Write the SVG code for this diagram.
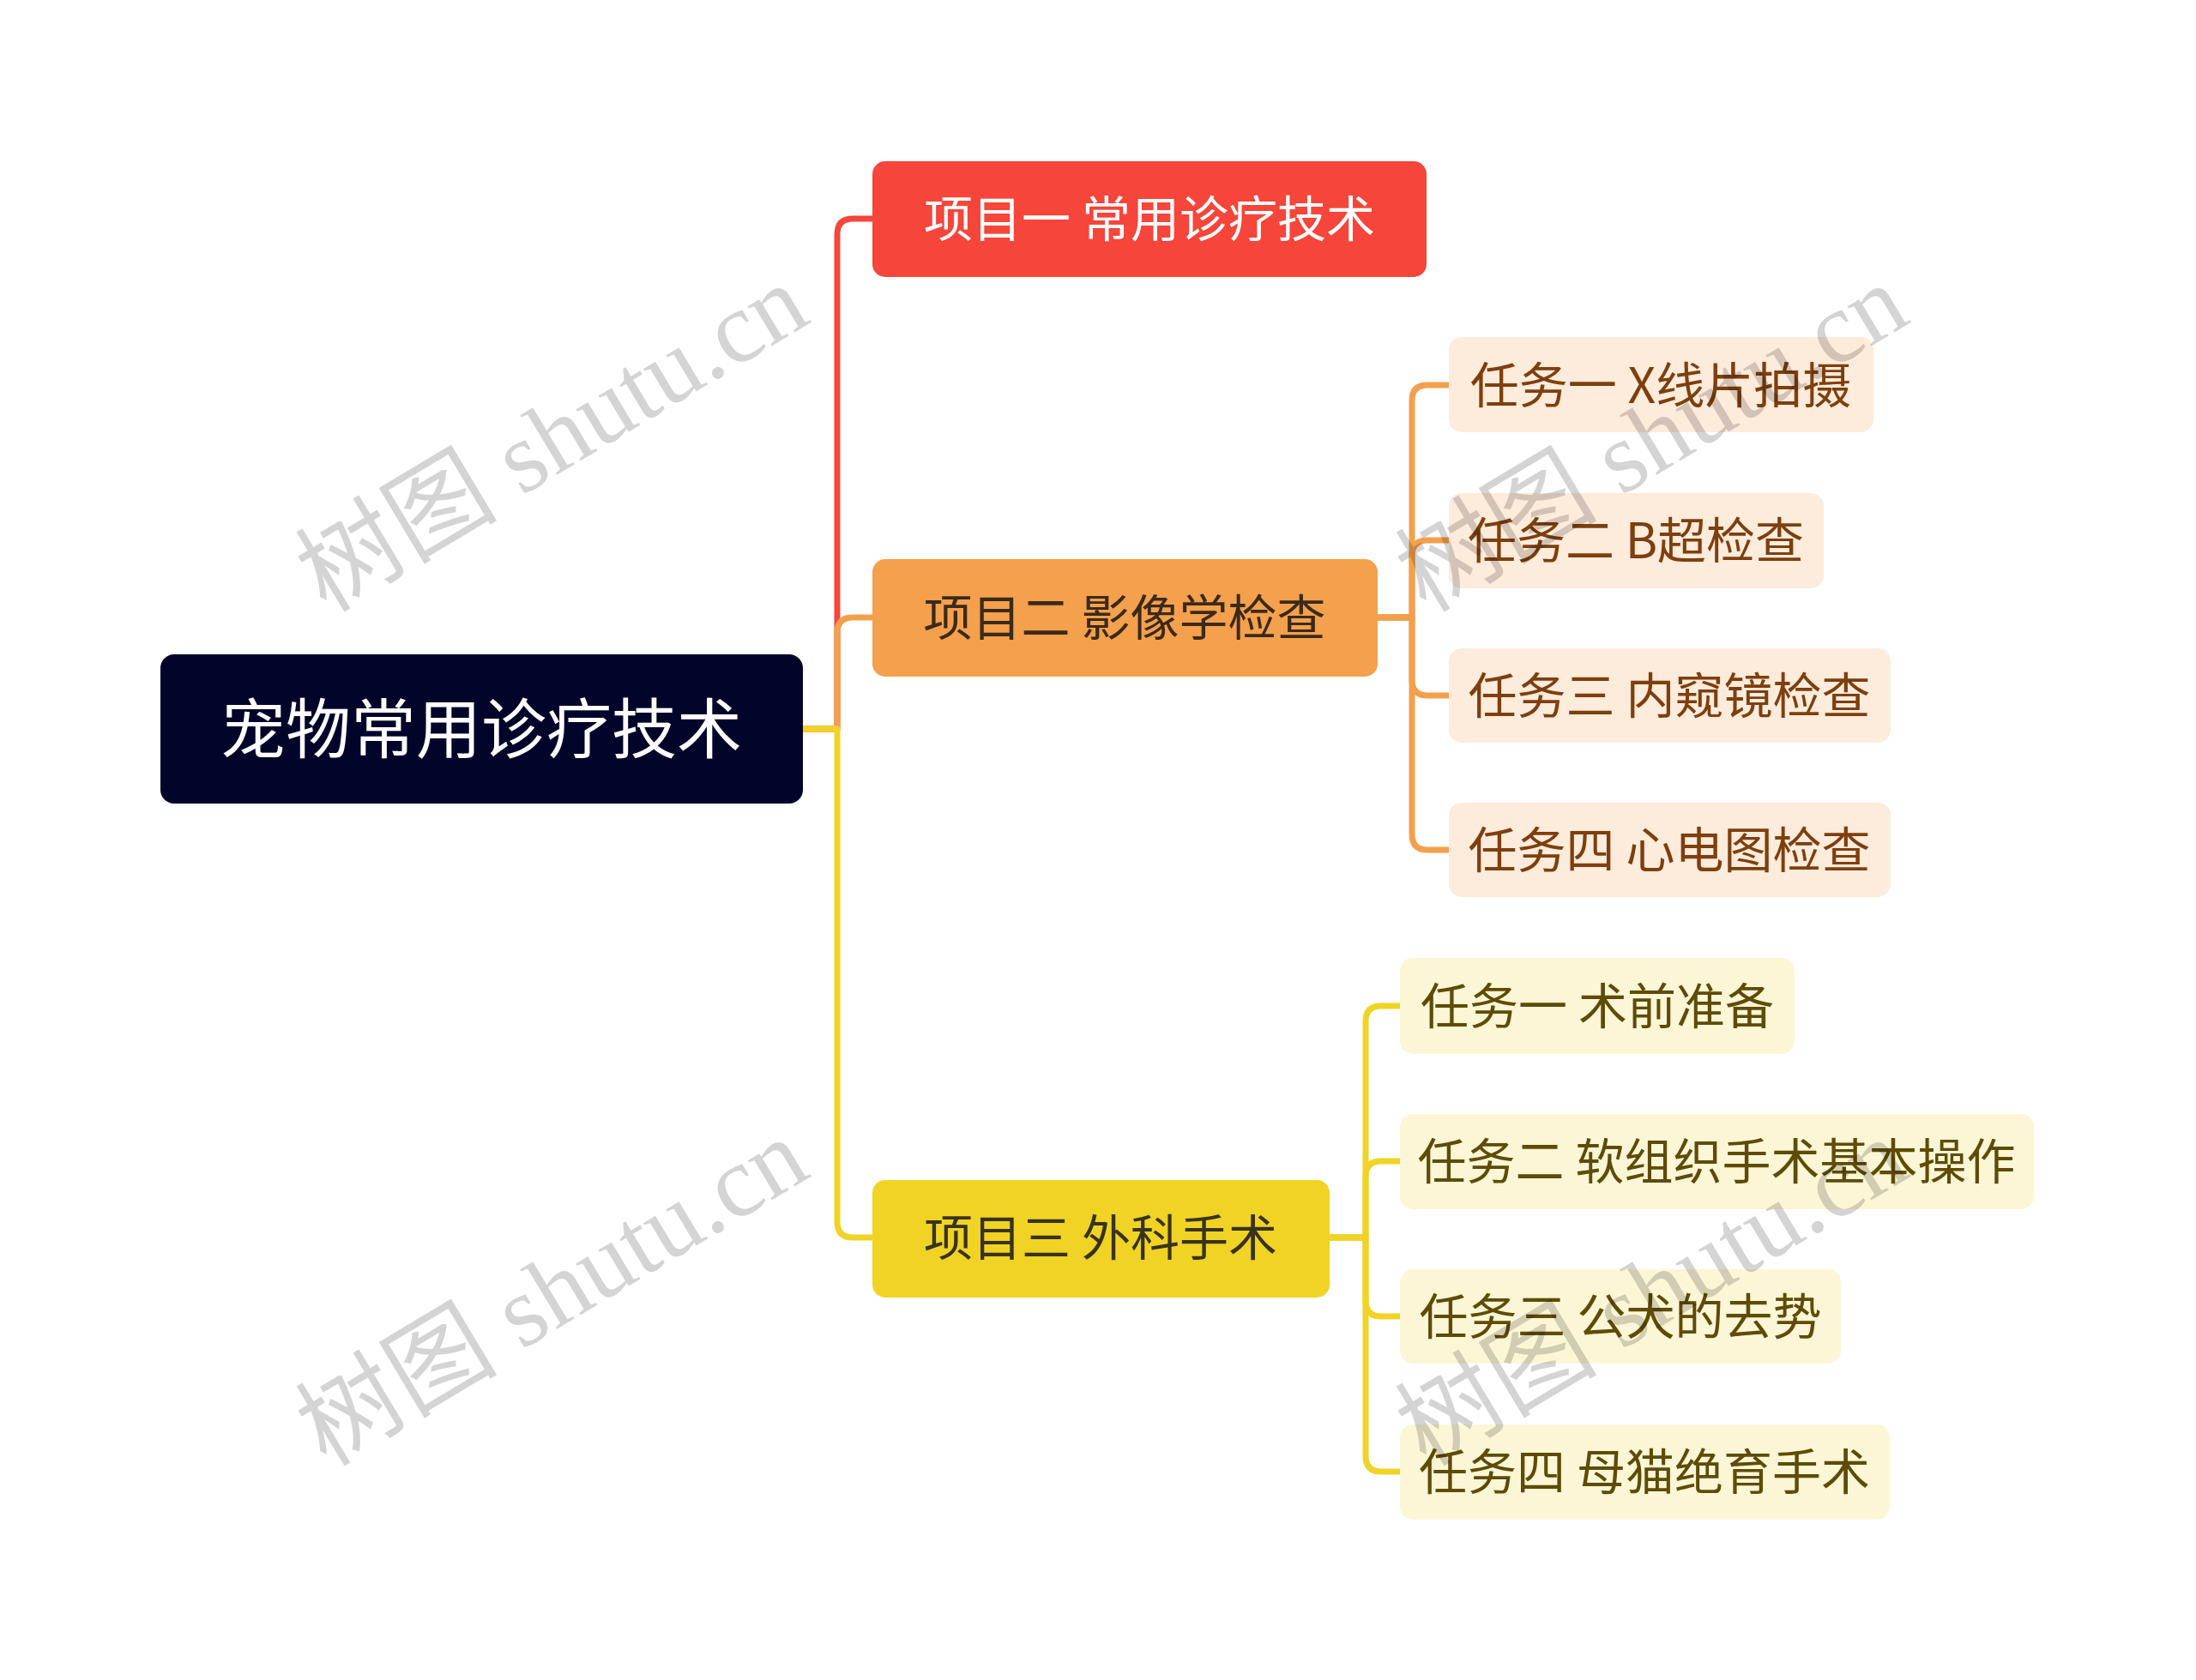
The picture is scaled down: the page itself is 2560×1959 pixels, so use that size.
<svg xmlns="http://www.w3.org/2000/svg" width="2560" height="1959" viewBox="0 0 2560 1959">
<style>
text{font-family:"Noto Sans CJK SC","Noto Sans",sans-serif;text-anchor:middle}
.c{fill:none;stroke-width:7;stroke-linejoin:round}
.t1{font-size:57px}
.root{font-size:76px;fill:#ffffff}
.sub-o{fill:#FDEBDB}
.sub-y{fill:#FCF6D7}
.to{font-size:57px;fill:#7E3F0E}
.ty{font-size:57px;fill:#5E4C06}
.wm{font-family:"Liberation Serif","Noto Sans CJK SC",serif;font-size:118px;fill:#000;fill-opacity:0.17}
</style>
<rect width="2560" height="1959" fill="#ffffff"/>
<g id="connectors">
<path class="c" stroke="#F5463B" d="M936 850H976V273Q976 255 994 255H1017"/>
<path class="c" stroke="#F3A04C" d="M936 850H976V738Q976 720 994 720H1017"/>
<path class="c" stroke="#F0D325" d="M936 850H976V1425Q976 1443 994 1443H1017"/>
<path class="c" stroke="#F3A04C" d="M1606 720H1646V467Q1646 449 1664 449H1689"/>
<path class="c" stroke="#F3A04C" d="M1606 720H1646V648Q1646 630 1664 630H1689"/>
<path class="c" stroke="#F3A04C" d="M1606 720H1646V793Q1646 811 1664 811H1689"/>
<path class="c" stroke="#F3A04C" d="M1606 720H1646V973Q1646 991 1664 991H1689"/>
<path class="c" stroke="#F0D325" d="M1550 1443H1592V1191Q1592 1173 1610 1173H1633"/>
<path class="c" stroke="#F0D325" d="M1550 1443H1592V1372Q1592 1354 1610 1354H1633"/>
<path class="c" stroke="#F0D325" d="M1550 1443H1592V1517Q1592 1535 1610 1535H1633"/>
<path class="c" stroke="#F0D325" d="M1550 1443H1592V1698Q1592 1716 1610 1716H1633"/>
</g>
<g id="root">
<rect x="187" y="763" width="749" height="174" rx="16" fill="#03042A"/>
<text class="root" x="561" y="878">宠物常用诊疗技术</text>
</g>
<g id="p1">
<rect x="1017" y="188" width="646" height="135" rx="15" fill="#F6453A"/>
<text class="t1" x="1340" y="276" fill="#ffffff">项目一 常用诊疗技术</text>
</g>
<g id="p2">
<rect x="1017" y="652" width="589" height="137" rx="15" fill="#F4A04C"/>
<text class="t1" x="1311" y="741" fill="#3B2A1A">项目二 影像学检查</text>
</g>
<g id="p3">
<rect x="1017" y="1376" width="533" height="137" rx="15" fill="#F0D325"/>
<text class="t1" x="1283" y="1464" fill="#38331C">项目三 外科手术</text>
</g>
<g id="p2c1">
<rect class="sub-o" x="1689" y="393" width="495" height="111" rx="15"/>
<text class="to" x="1936" y="470">任务一 X线片拍摄</text>
</g>
<g id="p2c2">
<rect class="sub-o" x="1689" y="575" width="437" height="111" rx="15"/>
<text class="to" x="1907" y="651">任务二 B超检查</text>
</g>
<g id="p2c3">
<rect class="sub-o" x="1689" y="756" width="515" height="110" rx="15"/>
<text class="to" x="1946" y="832">任务三 内窥镜检查</text>
</g>
<g id="p2c4">
<rect class="sub-o" x="1689" y="936" width="515" height="110" rx="15"/>
<text class="to" x="1946" y="1012">任务四 心电图检查</text>
</g>
<g id="p3c1">
<rect class="sub-y" x="1632" y="1117" width="460" height="112" rx="15"/>
<text class="ty" x="1862" y="1194">任务一 术前准备</text>
</g>
<g id="p3c2">
<rect class="sub-y" x="1632" y="1299" width="739" height="111" rx="15"/>
<text class="ty" x="2001" y="1375">任务二 软组织手术基本操作</text>
</g>
<g id="p3c3">
<rect class="sub-y" x="1632" y="1480" width="514" height="110" rx="15"/>
<text class="ty" x="1889" y="1556">任务三 公犬的去势</text>
</g>
<g id="p3c4">
<rect class="sub-y" x="1632" y="1661" width="571" height="111" rx="15"/>
<text class="ty" x="1917" y="1737">任务四 母猫绝育手术</text>
</g>
<g id="watermarks">
<text class="wm" transform="translate(664 545) rotate(-31)">树图 shutu.cn</text>
<text class="wm" transform="translate(664 1541) rotate(-31)">树图 shutu.cn</text>
<text class="wm" transform="translate(1946 545) rotate(-31)">树图 shutu.cn</text>
<text class="wm" transform="translate(1946 1541) rotate(-31)">树图 shutu.cn</text>
</g>
</svg>
